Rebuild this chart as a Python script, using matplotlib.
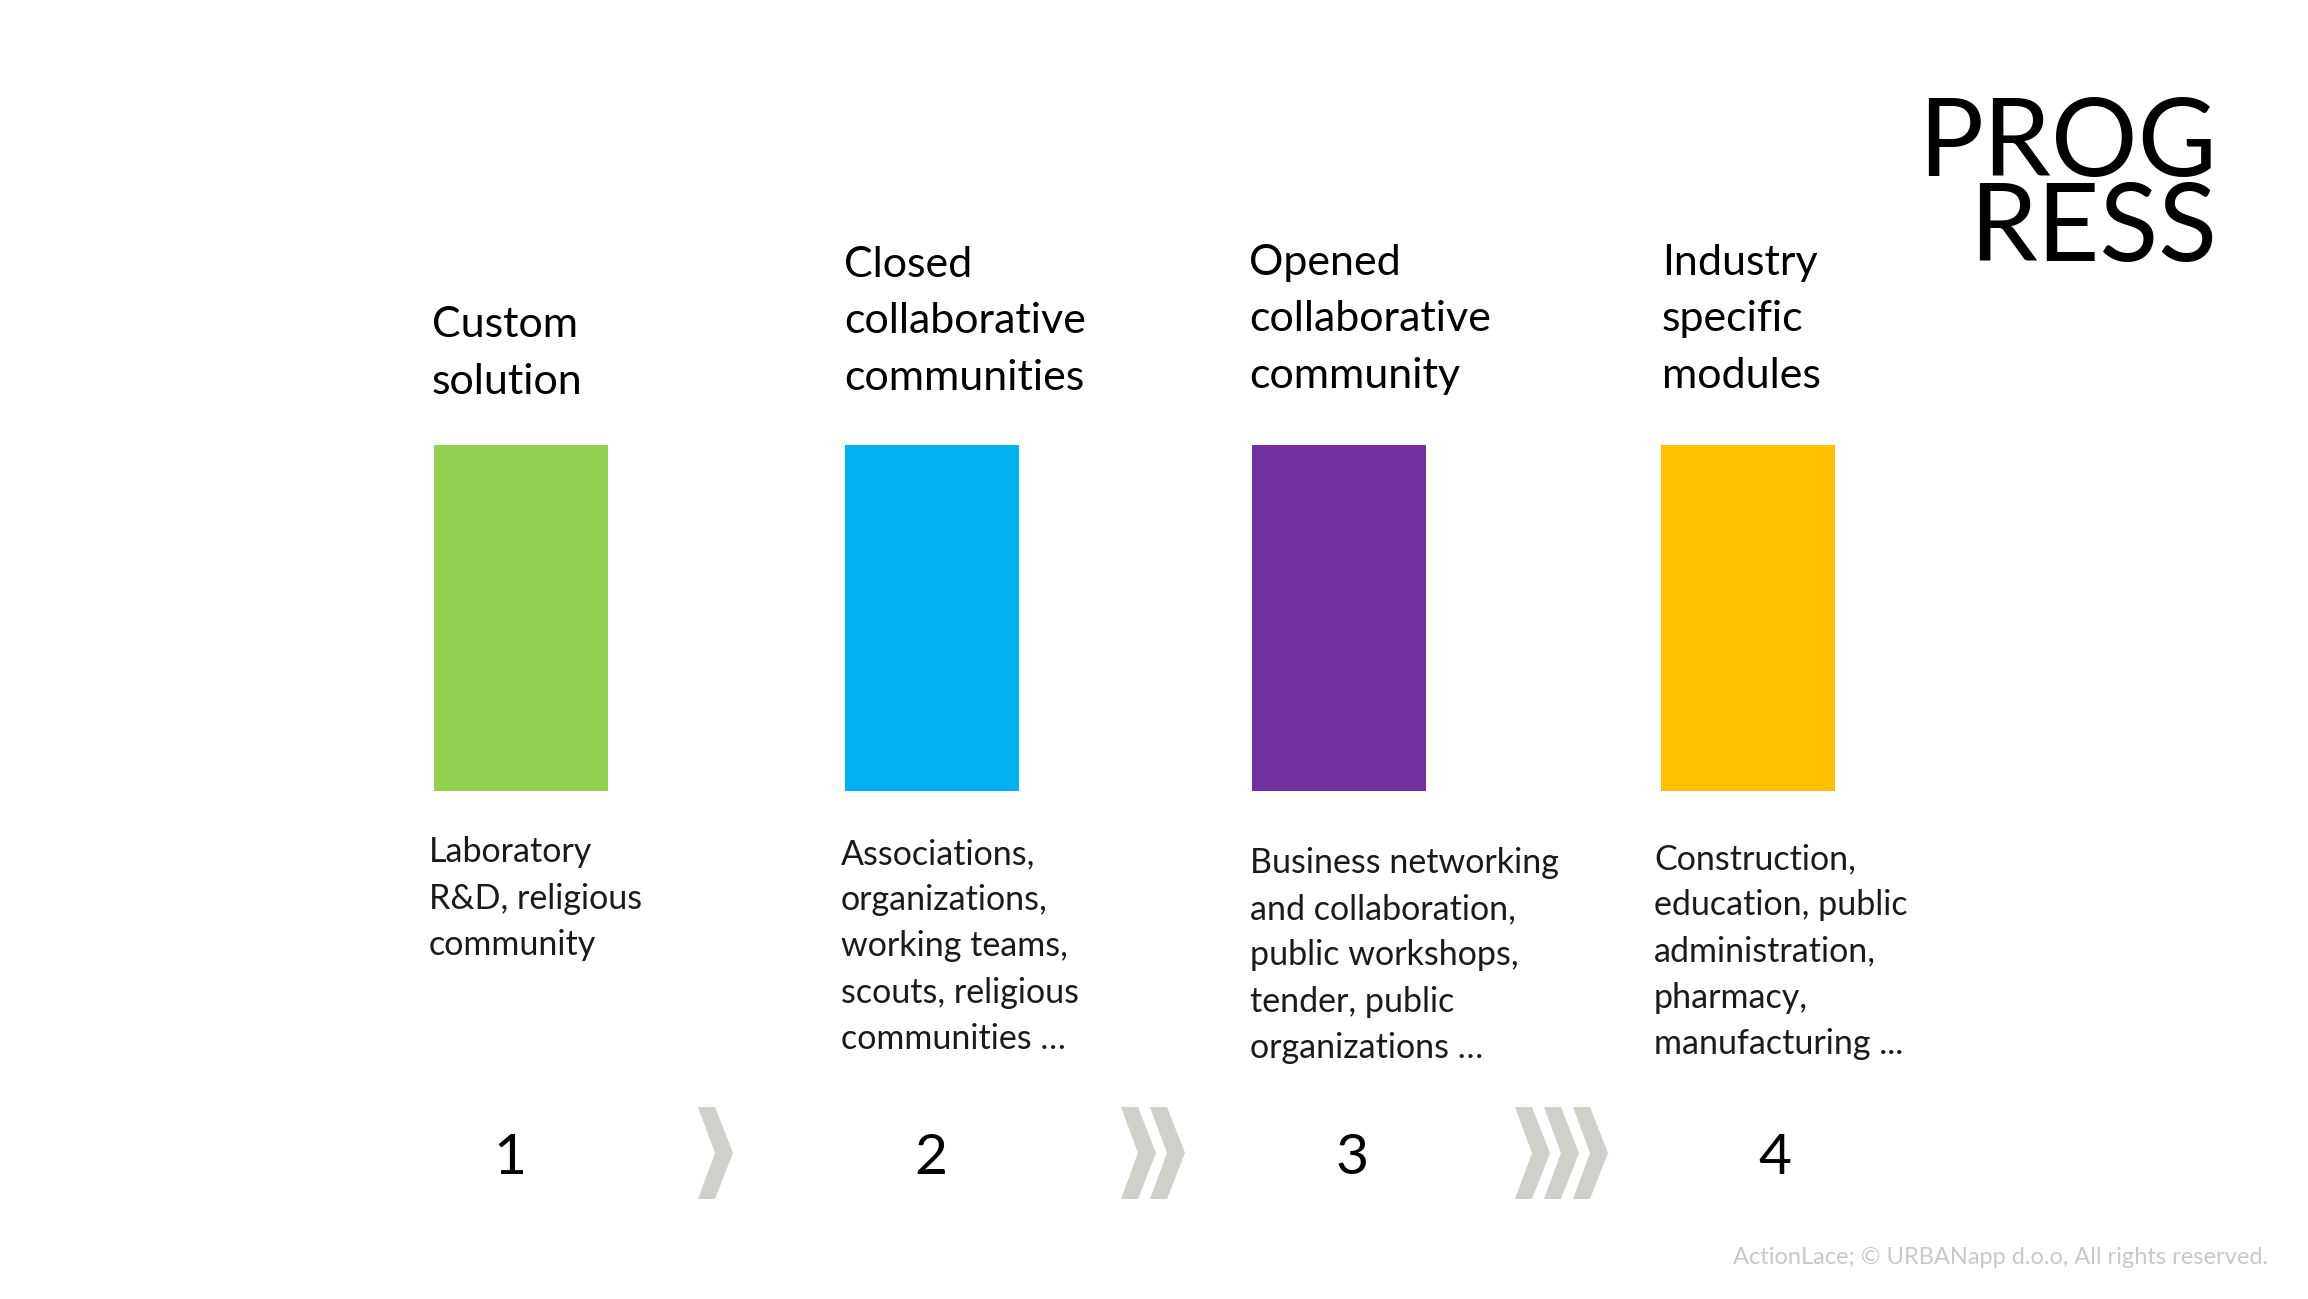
import matplotlib
matplotlib.use("Agg")
import matplotlib.pyplot as plt
from matplotlib.patches import Rectangle, Polygon

# slide content
titles = ["Custom\nsolution",
          "Closed\ncollaborative\ncommunities",
          "Opened\ncollaborative\ncommunity",
          "Industry\nspecific\nmodules"]
descriptions = ["Laboratory\nR&D, religious\ncommunity",
                "Associations,\norganizations,\nworking teams,\nscouts, religious\ncommunities \u2026",
                "Business networking\nand collaboration,\npublic workshops,\ntender, public\norganizations \u2026",
                "Construction,\neducation, public\nadministration,\npharmacy,\nmanufacturing ..."]
bar_colors = ["#92d050", "#00b0f0", "#7030a0", "#ffc000"]
step_numbers = ["1", "2", "3", "4"]
chevron_counts = [1, 2, 3]
footer = "ActionLace; \u00a9 URBANapp d.o.o, All rights reserved."

# layout (pixels, origin top-left)
W, H = 2308, 1299
bar_left = [434, 845, 1252, 1661]
bar_w, bar_top, bar_h = 174, 445, 346
title_left = [432, 844, 1249, 1662]
title_base = [394, 390, 388, 388]     # baseline of the last line
desc_left = [429, 841, 1250, 1654]
desc_base = [955, 1049, 1058, 1054]
num_x = [510, 931, 1352, 1775]
num_base = 1174
chevron_x0 = [698, 1121, 1515]
chev_step, chev_top, chev_bot = 29, 1107, 1199

plt.rcParams["font.family"] = ["Lato", "DejaVu Sans"]

fig = plt.figure(figsize=(W / 100, H / 100), dpi=100)
ax = fig.add_axes([0, 0, 1, 1])
ax.set_xlim(0, W)
ax.set_ylim(H, 0)
ax.axis("off")

for i in range(4):
    ax.add_patch(Rectangle((bar_left[i], bar_top), bar_w, bar_h, color=bar_colors[i], lw=0))
    ax.text(title_left[i], title_base[i], titles[i], fontsize=31, ha="left", va="baseline",
            linespacing=1.6, color="black")
    ax.text(desc_left[i], desc_base[i], descriptions[i], fontsize=24.5, ha="left", va="baseline",
            linespacing=1.55, color="#1a1a1a")
    ax.text(num_x[i], num_base, step_numbers[i], fontsize=41, ha="center", va="baseline",
            color="black")

# grey chevrons between the steps
mid = (chev_top + chev_bot) / 2
for x0, n in zip(chevron_x0, chevron_counts):
    for k in range(n):
        x = x0 + k * chev_step
        pts = [(x, chev_top), (x + 17, chev_top), (x + 35, mid),
               (x + 17, chev_bot), (x, chev_bot), (x + 17, mid)]
        ax.add_patch(Polygon(pts, closed=True, color="#d0cfca", lw=0))

# title in the corner
ax.text(2217, 261, "PROG\nRESS", fontsize=78, ha="right", va="baseline",
        multialignment="right", linespacing=0.83, color="black")

ax.text(2268, 1264, footer, fontsize=17, ha="right", va="baseline", color="#c8c8c8")

fig.savefig("out.png", dpi=100)
